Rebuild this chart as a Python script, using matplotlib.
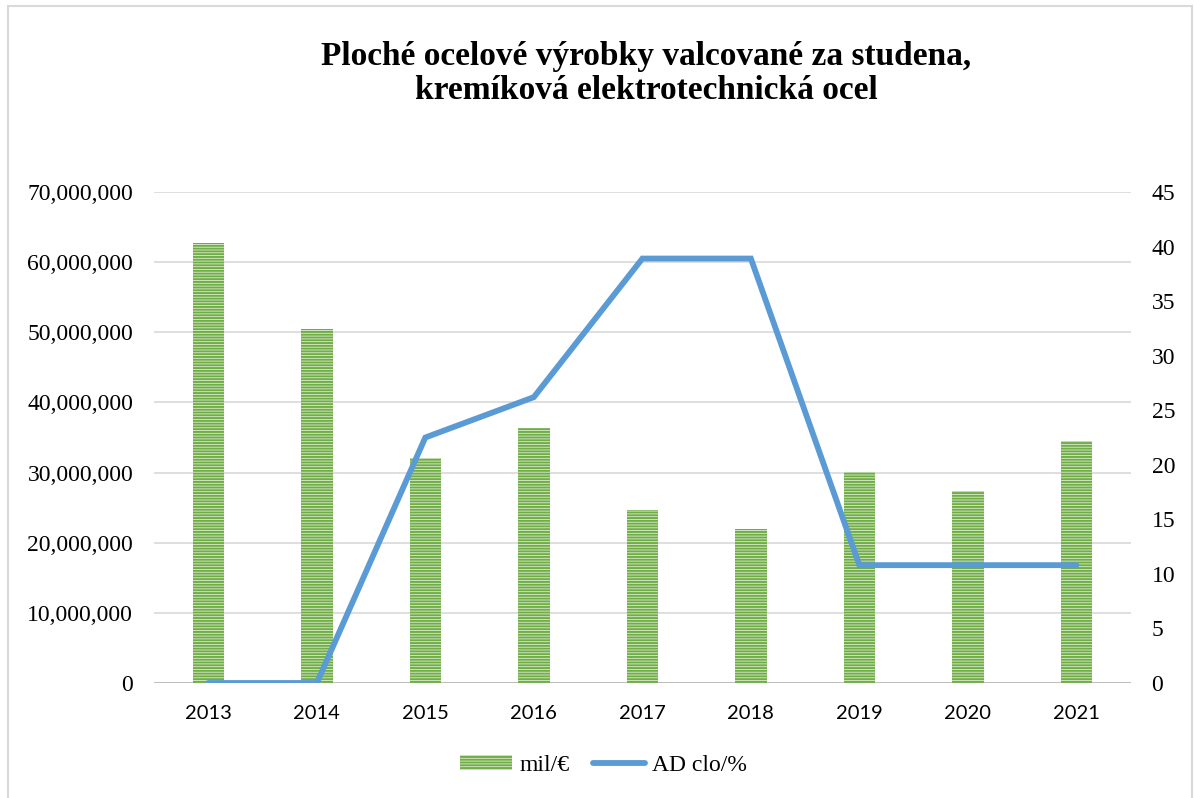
import numpy as np
import matplotlib
matplotlib.use('Agg')
import matplotlib.pyplot as plt
from matplotlib.ticker import FuncFormatter, MultipleLocator
from matplotlib.patches import Rectangle

# data
years = ['2013', '2014', '2015', '2016', '2017', '2018', '2019', '2020', '2021']
mil_eur = [62.7e6, 50.5e6, 32.1e6, 36.4e6, 24.7e6, 22.0e6, 30.1e6, 27.4e6, 34.5e6]
ad_clo = [0, 0, 22.5, 26.2, 38.9, 38.9, 10.8, 10.8, 10.8]
title = 'Ploché ocelové výrobky valcované za studena,\nkremíková elektrotechnická ocel'

serif = 'Liberation Serif'
plt.rcParams['hatch.linewidth'] = 1.4

fig = plt.figure(figsize=(11.94, 7.98), dpi=100)
ax = fig.add_axes([0.129, 0.1441, 0.818, 0.6153])
ax2 = ax.twinx()

x = np.arange(len(years))
bars = ax.bar(x, mil_eur, width=0.29, facecolor='#dcedd0', edgecolor='#70ad47',
              linewidth=0, hatch='------', label='mil/€', zorder=2)
line, = ax2.plot(x, ad_clo, color='#5b9bd5', lw=4.2, solid_capstyle='round',
                 solid_joinstyle='miter', label='AD clo/%', zorder=3)

ax.set_xlim(-0.5, len(years) - 0.5)
ax.set_ylim(0, 70e6)
ax2.set_ylim(0, 45)
ax.yaxis.set_major_locator(MultipleLocator(10e6))
ax2.yaxis.set_major_locator(MultipleLocator(5))
ax.yaxis.set_major_formatter(FuncFormatter(lambda v, p: f'{v:,.0f}'))

ax.grid(axis='y', color='#d9d9d9', lw=1.2, zorder=0)
ax.set_axisbelow(True)
for a in (ax, ax2):
    for s in a.spines.values():
        s.set_visible(False)
    a.tick_params(length=0)
ax.axhline(0, color='#bfbfbf', lw=2.2, zorder=1)

ax.set_xticks(x)
ax.set_xticklabels(years, family='Lato', fontsize=14.5)
ax.tick_params(axis='x', pad=16)
ax.tick_params(axis='y', pad=15)
ax2.tick_params(axis='y', pad=15)
for lab in ax.get_yticklabels() + ax2.get_yticklabels():
    lab.set_family(serif)
    lab.set_fontsize(17)

fig.text(0.541, 0.908, title, ha='center', va='center', family=serif,
         fontweight='bold', fontsize=24, linespacing=1.15)

fig.legend(handles=[bars, line], labels=['mil/€', 'AD clo/%'], loc='center',
           bbox_to_anchor=(0.5055, 0.041), ncol=2, frameon=False,
           prop={'family': serif, 'size': 17}, handlelength=2.2, handleheight=0.55,
           handletextpad=0.3, columnspacing=1.0)

fig.patches.append(Rectangle((8 / 1194, -0.01), 1184 / 1194, 1 - 6 / 798 + 0.01,
                             transform=fig.transFigure, fill=False,
                             edgecolor='#d9d9d9', lw=1.5))

fig.savefig('out.png', dpi=100)
